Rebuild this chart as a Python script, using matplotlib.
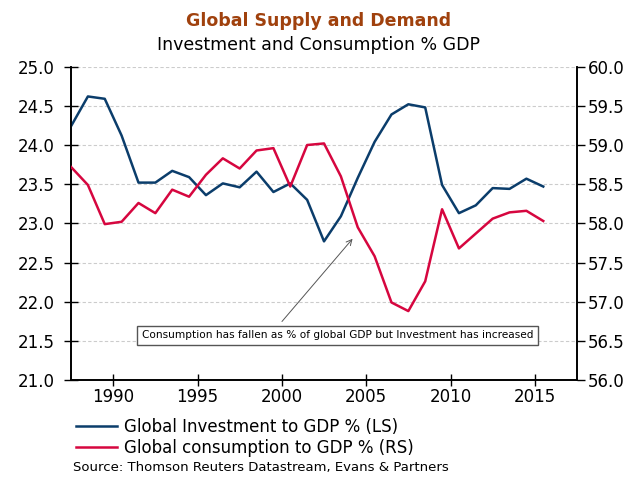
import matplotlib.pyplot as plt
from matplotlib.lines import Line2D

# annual observations, plotted at mid-year
years = [y + 0.5 for y in range(1987, 2016)]

investment = [24.24, 24.62, 24.59, 24.12, 23.52, 23.52, 23.67, 23.59, 23.36, 23.51,
              23.46, 23.66, 23.40, 23.51, 23.30, 22.77, 23.09, 23.58, 24.04, 24.39,
              24.52, 24.48, 23.49, 23.13, 23.23, 23.45, 23.44, 23.57, 23.47]

consumption = [58.72, 58.49, 57.99, 58.02, 58.26, 58.13, 58.43, 58.34, 58.62, 58.83,
               58.70, 58.93, 58.96, 58.47, 59.00, 59.02, 58.60, 57.95, 57.58, 56.99,
               56.88, 57.26, 58.18, 57.68, 57.87, 58.06, 58.14, 58.16, 58.03]

x_ticks = [1990, 1995, 2000, 2005, 2010, 2015]
left_ticks = [21.0, 21.5, 22.0, 22.5, 23.0, 23.5, 24.0, 24.5, 25.0]
right_ticks = [56.0, 56.5, 57.0, 57.5, 58.0, 58.5, 59.0, 59.5, 60.0]

blue = '#0b3d6b'
red = '#d6063f'

fig = plt.figure(figsize=(6.37, 4.78), dpi=100)
ax = fig.add_axes([0.1115, 0.205, 0.7943, 0.6555])
ax2 = ax.twinx()

ax.plot(years, investment, color=blue, lw=1.8, zorder=3)
ax2.plot(years, consumption, color=red, lw=1.8, zorder=3)

ax.set_xlim(1987.5, 2017.5)
ax.set_ylim(21.0, 25.0)
ax2.set_ylim(56.0, 60.0)
ax.set_xticks(x_ticks)
ax.set_yticks(left_ticks)
ax2.set_yticks(right_ticks)
ax.set_yticklabels([f'{v:.1f}' for v in left_ticks])
ax2.set_yticklabels([f'{v:.1f}' for v in right_ticks])

for a in (ax, ax2):
    a.spines['top'].set_visible(False)
    for s in a.spines.values():
        s.set_linewidth(1.2)
ax.grid(axis='y', color='#cccccc', linestyle=(0, (3, 2)), lw=0.8)
ax.set_axisbelow(True)

ax.tick_params(axis='x', direction='inout', length=8, width=1, labelsize=12, pad=2)
ax.tick_params(axis='y', direction='inout', length=10, width=1, labelsize=12, pad=7)
ax2.tick_params(axis='y', direction='out', length=6, width=1, labelsize=12, pad=2)

# annotation
ax.annotate('', xy=(2004.3, 22.83), xytext=(1999.9, 21.72),
            arrowprops=dict(arrowstyle='->', color='#555555', lw=0.7), zorder=5)
ax.text(2003.3, 21.57, 'Consumption has fallen as % of global GDP but Investment has increased',
        ha='center', va='center', fontsize=7.6,
        bbox=dict(boxstyle='square,pad=0.45', fc='white', ec='#555555', lw=1), zorder=6)

fig.text(0.5, 0.957, 'Global Supply and Demand', ha='center', va='center',
         fontsize=12.5, fontweight='bold', color='#a0410d')
fig.text(0.5, 0.905, 'Investment and Consumption % GDP', ha='center', va='center',
         fontsize=12.5, color='black')

handles = [Line2D([], [], color=blue, lw=1.8), Line2D([], [], color=red, lw=1.8)]
fig.legend(handles, ['Global Investment to GDP % (LS)', 'Global consumption to GDP % (RS)'],
           loc='upper left', bbox_to_anchor=(0.119, 0.125), frameon=False,
           fontsize=12, handlelength=2.5, handletextpad=0.4, labelspacing=0.15,
           borderpad=0, borderaxespad=0)

fig.text(0.115, 0.023, 'Source: Thomson Reuters Datastream, Evans & Partners',
         ha='left', va='center', fontsize=9.5)

fig.savefig('out.png', dpi=100)
